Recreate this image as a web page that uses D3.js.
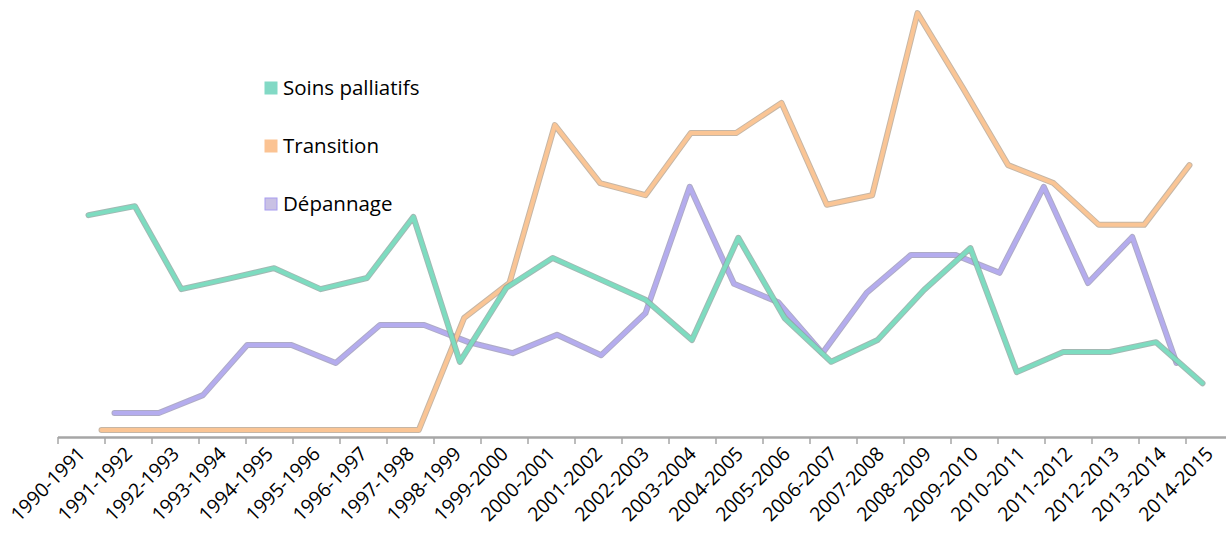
<!DOCTYPE html>
<html><head><meta charset="utf-8">
<script src="https://cdn.jsdelivr.net/npm/d3@7"></script>
<style>body{margin:0;background:#fff}svg{display:block}</style>
</head><body>
<svg id="c" width="1226" height="541"></svg>
<script>
const categories = ["1990-1991","1991-1992","1992-1993","1993-1994","1994-1995","1995-1996","1996-1997","1997-1998","1998-1999","1999-2000","2000-2001","2001-2002","2002-2003","2003-2004","2004-2005","2005-2006","2006-2007","2007-2008","2008-2009","2009-2010","2010-2011","2011-2012","2012-2013","2013-2014","2014-2015"];
const soinsPalliatifs = [51.3,53.4,34.0,36.4,38.9,34.0,36.6,50.9,17.0,34.3,41.3,36.4,31.5,22.1,46.0,27.2,17.0,22.1,33.8,43.6,14.6,19.3,19.3,21.6,12.0];
const transition = [0,0,0,0,0,0,0,0,26.8,35.2,73.0,59.1,56.2,71.1,71.1,78.3,53.9,56.2,99.8,81.9,63.4,59.1,49.1,49.1,63.4];
const depannage = [3.0,3.0,7.4,19.7,19.7,15.3,24.6,24.6,20.4,17.7,22.2,17.2,27.5,58.5,34.7,30.2,17.7,32.5,41.8,41.8,37.4,58.5,34.9,46.2,15.3];
const seriesNames = ["Soins palliatifs","Transition","Dépannage"];

const svg = d3.select("#c");
const x = d3.scaleBand().domain(categories).range([58, 1233]);
const y = d3.scaleLinear().domain([0, 100]).range([437, 4]);
const cx = 645, vy = 237;
// depth factor per series (3D perspective: front → back)
const series = [
  {name: seriesNames[2], values: depannage, k: 0.9415, color: "#b4acee", edge: "#9a96b8"},
  {name: seriesNames[1], values: transition, k: 0.9645, color: "#fac595", edge: "#b8a48e"},
  {name: seriesNames[0], values: soinsPalliatifs, k: 0.9876, color: "#7ddcc0", edge: "#8aa8a0"}
];

// axis
const axisG = svg.append("g");
axisG.append("line").attr("x1", 58).attr("x2", 1226).attr("y1", 437.5).attr("y2", 437.5)
  .attr("stroke", "#a6a6a6").attr("stroke-width", 2.5);
const bounds = categories.map(c => x(c)).concat([x(categories[categories.length-1]) + x.bandwidth()]);
axisG.selectAll("line.tk").data(bounds).join("line").attr("class","tk")
  .attr("x1", d => d).attr("x2", d => d).attr("y1", 437).attr("y2", 444)
  .attr("stroke", "#a6a6a6").attr("stroke-width", 1.5);
axisG.selectAll("text").data(categories).join("text")
  .attr("transform", d => `translate(${x(d) + x.bandwidth()/2 + 5},${455}) rotate(-45)`)
  .attr("text-anchor", "end")
  .attr("font-family", "'Open Sans', 'Liberation Sans', sans-serif")
  .attr("font-size", 19.5).attr("fill", "#000")
  .text(d => d);

// lines
const proj = (k) => d3.line()
  .x((d, i) => cx + (x(categories[i]) + x.bandwidth()/2 - cx) * k)
  .y(d => vy + (y(d) - vy) * k)
  .curve(d3.curveLinear);

series.forEach(s => {
  const g = svg.append("g");
  g.append("path").datum(s.values).attr("d", proj(s.k))
    .attr("fill", "none").attr("stroke", s.edge).attr("stroke-width", 6)
    .attr("stroke-linejoin", "round").attr("stroke-linecap", "round").attr("opacity", 0.8);
  g.append("path").datum(s.values).attr("d", proj(s.k))
    .attr("fill", "none").attr("stroke", s.color).attr("stroke-width", 4)
    .attr("stroke-linejoin", "round").attr("stroke-linecap", "round");
});

// legend
const legend = [
  {name: seriesNames[0], fill: "#82d9c5", stroke: "#82d9c5"},
  {name: seriesNames[1], fill: "#fbc393", stroke: "#fbc393"},
  {name: seriesNames[2], fill: "#c9c1e4", stroke: "#a79cf0"}
];
const lg = svg.append("g");
legend.forEach((l, i) => {
  const yy = 88 + i * 58;
  lg.append("rect").attr("x", 265).attr("y", yy - 6).attr("width", 12).attr("height", 12)
    .attr("fill", l.fill).attr("stroke", l.stroke).attr("stroke-width", 1);
  lg.append("text").attr("x", 283).attr("y", yy + 7)
    .attr("font-family", "'Open Sans', 'Liberation Sans', sans-serif")
    .attr("font-size", 20.5).attr("fill", "#000").text(l.name);
});
</script>
</body></html>
